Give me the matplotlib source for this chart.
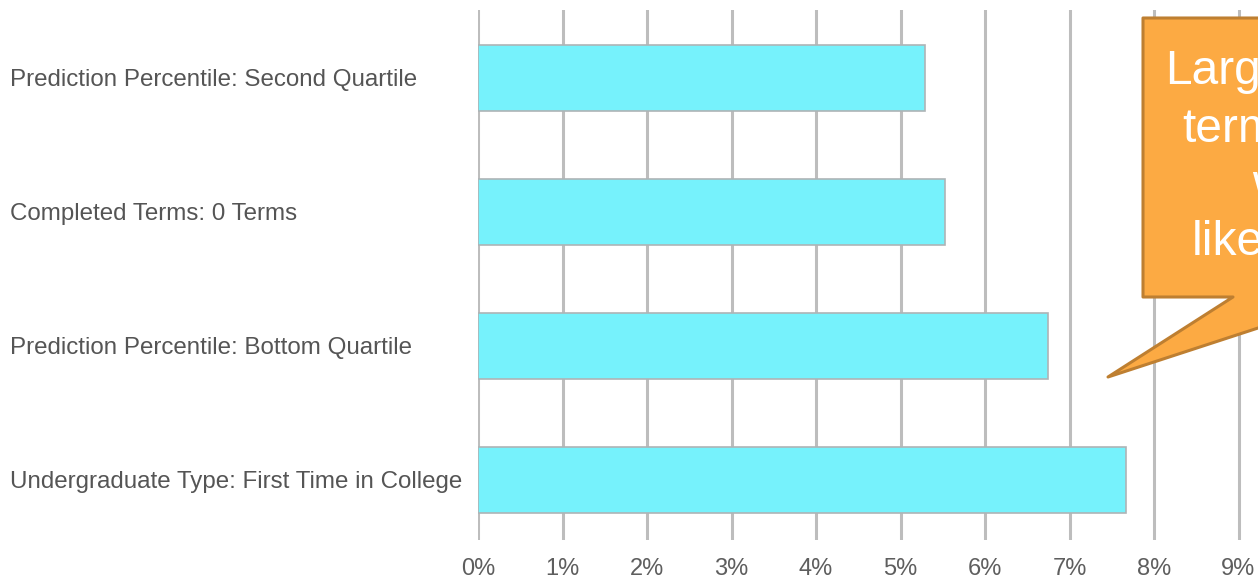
import matplotlib.pyplot as plt
from matplotlib.patches import Polygon

# categories listed bottom to top
categories = [
    'Undergraduate Type: First Time in College',
    'Prediction Percentile: Bottom Quartile',
    'Completed Terms: 0 Terms',
    'Prediction Percentile: Second Quartile',
]
values = [7.67, 6.75, 5.53, 5.29]
xticks = list(range(10))
xtick_labels = [f'{t}%' for t in xticks]
callout_lines = ['Larger', 'terms', 'with', 'likely']

W, H = 1258, 582
plt.rcParams['font.family'] = ['Liberation Sans', 'DejaVu Sans']

fig = plt.figure(figsize=(W / 100, H / 100), dpi=100)
ax = fig.add_axes([478 / W, 42 / H, 1 - 478 / W, 530 / H])

ypos = range(len(categories))
ax.barh(ypos, values, height=0.49, color='#76F2FC', edgecolor='#AEB4B6',
        linewidth=1.2, zorder=3)

ax.set_xlim(0, (W - 478) / 84.5)
ax.set_ylim(-0.448, 3.507)
ax.set_xticks(xticks)
ax.set_xticklabels(xtick_labels)
ax.set_yticks(list(ypos))
ax.set_yticklabels(categories, ha='left')
ax.tick_params(axis='y', length=0, pad=(478 - 10) * 0.72, labelsize=17.4, labelcolor='#555555')
ax.tick_params(axis='x', length=0, pad=13, labelsize=17, labelcolor='#5E5E5E')
ax.grid(axis='x', color='#BDBDBD', linewidth=2.2, zorder=0)
for s in ax.spines.values():
    s.set_visible(False)


def fpt(x, y):
    return (x / W, 1 - y / H)


# speech-bubble callout running off the right edge
pts = [(1143, 18), (1420, 18), (1420, 297), (1353, 297), (1108, 377),
       (1233, 297), (1143, 297)]
bubble = Polygon([fpt(x, y) for x, y in pts], closed=True, transform=fig.transFigure,
                 facecolor='#FCAA43', edgecolor='#BE7F31', linewidth=2.2,
                 joinstyle='round', zorder=10)
fig.patches.append(bubble)

line_x = [1165, 1182, 1252, 1192]
line_y = [72, 129, 186, 242]
for txt, x, y in zip(callout_lines, line_x, line_y):
    fig.text(*fpt(x, y), txt, ha='left', va='center', color='white',
             fontsize=34.5, zorder=11)

fig.savefig('out.png', dpi=100)
